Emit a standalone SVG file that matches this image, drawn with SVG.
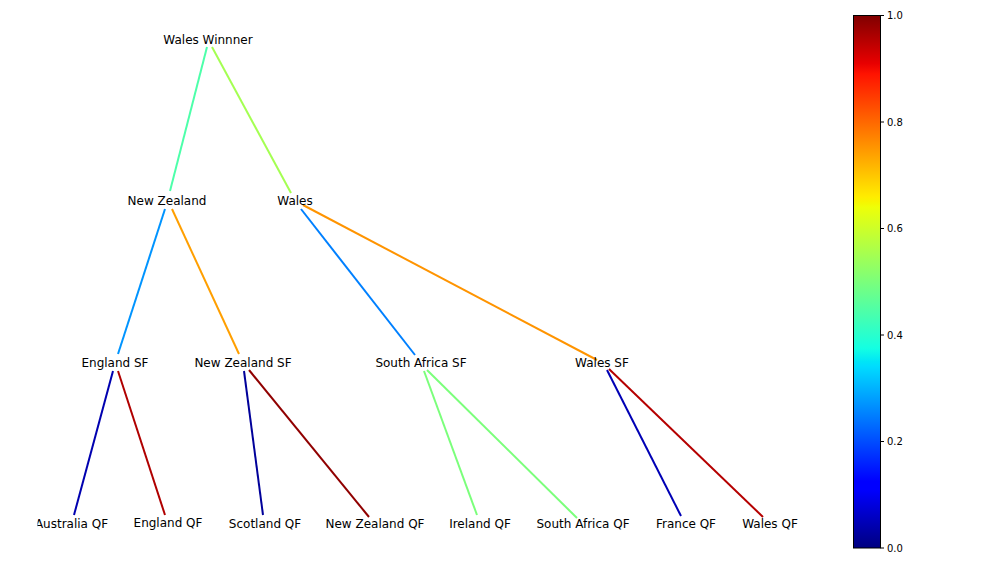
<svg xmlns="http://www.w3.org/2000/svg" width="1008" height="576" viewBox="0 0 1008 576">
<style>
.lbl{font-family:"DejaVu Sans",sans-serif;font-size:12px;fill:#000;text-anchor:middle}
.tick{font-family:"DejaVu Sans",sans-serif;font-size:10px;fill:#000}
.e{stroke-width:2;fill:none}
</style>
<defs>
<linearGradient id="jet" x1="0" y1="1" x2="0" y2="0">
<stop offset="0" stop-color="#000080"/>
<stop offset="0.11" stop-color="#0000ff"/>
<stop offset="0.125" stop-color="#0000ff"/>
<stop offset="0.34" stop-color="#00dbff"/>
<stop offset="0.35" stop-color="#00e5f7"/>
<stop offset="0.375" stop-color="#14ffe2"/>
<stop offset="0.5" stop-color="#7bff7b"/>
<stop offset="0.64" stop-color="#eeff08"/>
<stop offset="0.65" stop-color="#f7f500"/>
<stop offset="0.66" stop-color="#ffec00"/>
<stop offset="0.89" stop-color="#ff1300"/>
<stop offset="0.91" stop-color="#e80000"/>
<stop offset="1" stop-color="#800000"/>
</linearGradient>
<clipPath id="ax"><rect x="37.5" y="0" width="780" height="576"/></clipPath>
</defs>
<rect width="1008" height="576" fill="#fff"/>
<g id="connectors" clip-path="url(#ax)">
<line class="e" x1="207" y1="47" x2="170" y2="191" stroke="#4dffaa"/>
<line class="e" x1="212" y1="47" x2="291" y2="193" stroke="#a4ff52"/>
<line class="e" x1="165" y1="209" x2="118" y2="354" stroke="#0094ff"/>
<line class="e" x1="172" y1="209" x2="239" y2="354" stroke="#ff9f00"/>
<line class="e" x1="301" y1="209" x2="415" y2="355" stroke="#0080ff"/>
<line class="e" x1="303" y1="205" x2="597" y2="360" stroke="#ff9400"/>
<line class="e" x1="113" y1="371" x2="74" y2="515" stroke="#0000b0"/>
<line class="e" x1="118" y1="371" x2="165" y2="515" stroke="#b00000"/>
<line class="e" x1="244" y1="371" x2="263" y2="515" stroke="#00009a"/>
<line class="e" x1="249" y1="370" x2="369" y2="517" stroke="#900000"/>
<line class="e" x1="424" y1="371" x2="477" y2="515" stroke="#7bff7b"/>
<line class="e" x1="427" y1="370" x2="577" y2="518" stroke="#7bff7b"/>
<line class="e" x1="607" y1="370" x2="681" y2="516" stroke="#0000b5"/>
<line class="e" x1="609" y1="369" x2="763" y2="517" stroke="#b50000"/>
</g>
<g clip-path="url(#ax)">
<g id="n-wales-winner"><text class="lbl" x="208" y="43.5">Wales Winnner</text></g>
<g id="n-new-zealand"><text class="lbl" x="167" y="204.5">New Zealand</text></g>
<g id="n-wales"><text class="lbl" x="295" y="204.5">Wales</text></g>
<g id="n-england-sf"><text class="lbl" x="115" y="366.5">England SF</text></g>
<g id="n-new-zealand-sf"><text class="lbl" x="243" y="366.5">New Zealand SF</text></g>
<g id="n-south-africa-sf"><text class="lbl" x="421" y="366.5">South Africa SF</text></g>
<g id="n-wales-sf"><text class="lbl" x="602" y="366.5">Wales SF</text></g>
<g id="n-australia-qf"><text class="lbl" x="71.5" y="528">Australia QF</text></g>
<g id="n-england-qf"><text class="lbl" x="168" y="527">England QF</text></g>
<g id="n-scotland-qf"><text class="lbl" x="265" y="528">Scotland QF</text></g>
<g id="n-new-zealand-qf"><text class="lbl" x="375" y="528">New Zealand QF</text></g>
<g id="n-ireland-qf"><text class="lbl" x="480" y="528">Ireland QF</text></g>
<g id="n-south-africa-qf"><text class="lbl" x="583" y="528">South Africa QF</text></g>
<g id="n-france-qf"><text class="lbl" x="686" y="528">France QF</text></g>
<g id="n-wales-qf"><text class="lbl" x="770" y="528">Wales QF</text></g>
</g>
<g id="colorbar">
<rect x="853.5" y="15.5" width="27" height="532.5" fill="url(#jet)" stroke="#000" stroke-width="1"/>
<g stroke="#000" stroke-width="1">
<line x1="880.5" y1="15.5" x2="884" y2="15.5"/>
<line x1="880.5" y1="122" x2="884" y2="122"/>
<line x1="880.5" y1="228.5" x2="884" y2="228.5"/>
<line x1="880.5" y1="335" x2="884" y2="335"/>
<line x1="880.5" y1="441.5" x2="884" y2="441.5"/>
<line x1="880.5" y1="548" x2="884" y2="548"/>
</g>
<text class="tick" x="887" y="19">1.0</text>
<text class="tick" x="887" y="125.5">0.8</text>
<text class="tick" x="887" y="232">0.6</text>
<text class="tick" x="887" y="338.5">0.4</text>
<text class="tick" x="887" y="445">0.2</text>
<text class="tick" x="887" y="551.5">0.0</text>
</g>
</svg>
